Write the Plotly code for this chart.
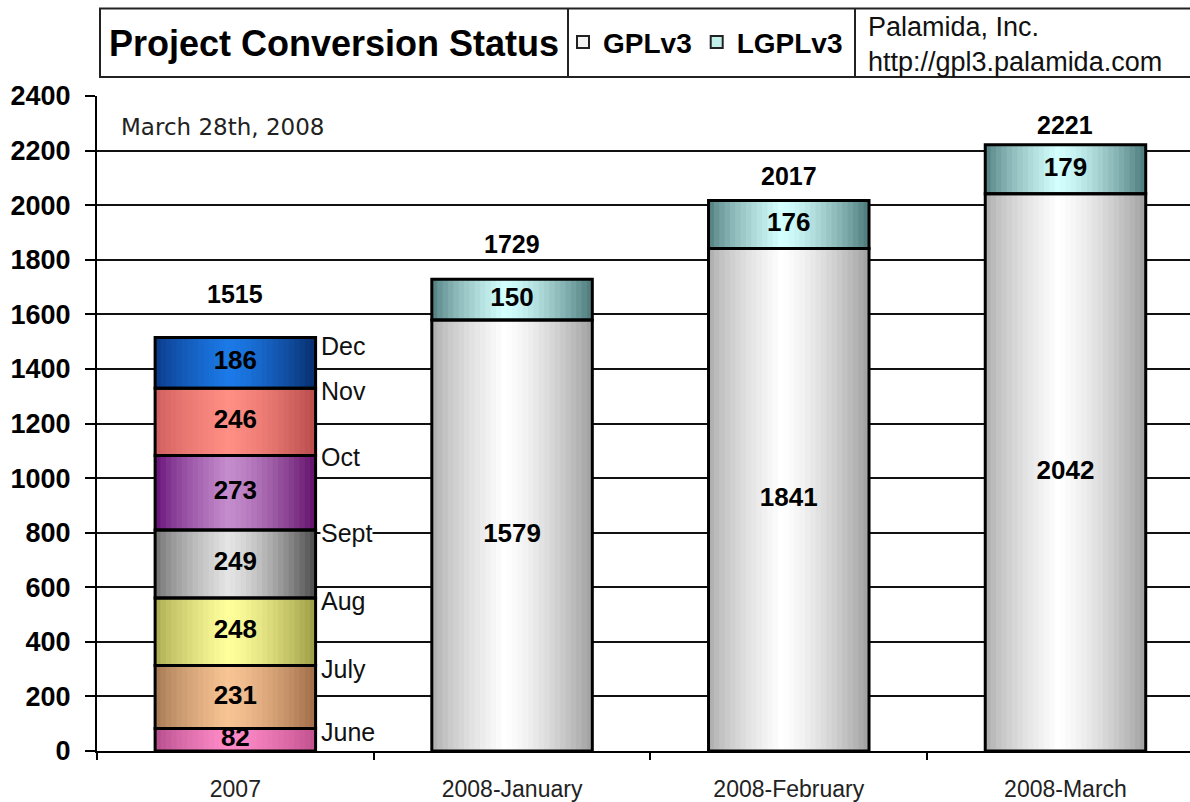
import plotly.graph_objects as go

# ---------------- data ----------------
categories = ["2007", "2008-January", "2008-February", "2008-March"]
months = ["June", "July", "Aug", "Sept", "Oct", "Nov", "Dec"]
month_counts = [82, 231, 248, 249, 273, 246, 186]
gpl_counts = [1579, 1841, 2042]          # 2008-January .. 2008-March
lgpl_counts = [150, 176, 179]
y_ticks = list(range(0, 2401, 200))

# ---------------- styles ----------------
FONT = "Arial, Liberation Sans, sans-serif"
# (left edge, highlight, right edge) gradient colours for each segment
month_grad = [
    ("#b04888", "#ff8cc8", "#c0508e"),   # June
    ("#a07450", "#f8c494", "#a06c48"),   # July
    ("#a6a64c", "#ffff9c", "#9c9c44"),   # Aug
    ("#6c6c6c", "#e4e4e4", "#4c4c4c"),   # Sept
    ("#620a74", "#c48ccc", "#62106a"),   # Oct
    ("#cc5c5c", "#ff8e84", "#b84c4c"),   # Nov
    ("#0a3682", "#1c7ae8", "#082e6c"),   # Dec
]
gpl_grad = ("#a8a8a8", "#ffffff", "#a0a0a0")
lgpl_grad = ("#4a7878", "#d4ffff", "#4c7a7a")
BAR_W = 0.58
N_STRIPS = 30
HI_POS = 0.45

def hex2rgb(h):
    h = h.lstrip("#")
    return [int(h[i:i + 2], 16) for i in (0, 2, 4)]

def grad_color(spec, t):
    l, h, r = (hex2rgb(c) for c in spec)
    if t <= HI_POS:
        u = (t / HI_POS) ** 0.7
        a, b = l, h
    else:
        u = ((t - HI_POS) / (1 - HI_POS)) ** 1.4
        a, b = h, r
    c = [round(a[k] + (b[k] - a[k]) * u) for k in range(3)]
    return "rgb(%d,%d,%d)" % tuple(c)

# ---------------- assemble segments from data ----------------
seg_x, seg_y, seg_base, seg_spec = [], [], [], []
cum = 0
for m, v, spec in zip(months, month_counts, month_grad):
    seg_x.append(categories[0]); seg_y.append(v); seg_base.append(cum); seg_spec.append(spec)
    cum += v
for c, g in zip(categories[1:], gpl_counts):
    seg_x.append(c); seg_y.append(g); seg_base.append(0); seg_spec.append(gpl_grad)
for c, g, l in zip(categories[1:], gpl_counts, lgpl_counts):
    seg_x.append(c); seg_y.append(l); seg_base.append(g); seg_spec.append(lgpl_grad)

totals = [sum(month_counts)] + [g + l for g, l in zip(gpl_counts, lgpl_counts)]

fig = go.Figure()

# gradient strips (horizontal shading of each bar)
sw = BAR_W / N_STRIPS
for i in range(N_STRIPS):
    t = (i + 0.5) / N_STRIPS
    w = sw if i == N_STRIPS - 1 else sw * 1.5
    fig.add_trace(go.Bar(
        x=seg_x, y=seg_y, base=seg_base,
        width=[w] * len(seg_x), offset=-BAR_W / 2 + i * sw,
        marker=dict(color=[grad_color(s, t) for s in seg_spec], line=dict(width=0)),
        showlegend=False, hoverinfo="skip",
    ))

# outlines
fig.add_trace(go.Bar(
    x=seg_x, y=seg_y, base=seg_base, width=[BAR_W] * len(seg_x),
    marker=dict(color="rgba(0,0,0,0)", line=dict(color="black", width=3)),
    showlegend=False, hoverinfo="skip",
))

# segment value labels
fig.add_trace(go.Scatter(
    x=seg_x, y=[b + v / 2 for b, v in zip(seg_base, seg_y)],
    text=[str(v) for v in seg_y], mode="text",
    textfont=dict(family=FONT, size=26, color="black", weight="bold"),
    showlegend=False, hoverinfo="skip",
))

# legend-only entries
fig.add_trace(go.Bar(x=[None], y=[None], name="GPLv3",
                     marker=dict(color="#f4f4f4", line=dict(color="#222", width=2))))
fig.add_trace(go.Bar(x=[None], y=[None], name="LGPLv3",
                     marker=dict(color="#c4f0ec", line=dict(color="#222", width=2))))

PX_PER_CAT = 1093 / 3.95
annotations = []
# totals above bars (category index used as position)
total_shift = [44, 35, 25, 20]
for c, tot, sh in zip(categories, totals, total_shift):
    annotations.append(dict(x=categories.index(c), y=tot, xref="x", yref="y",
                            text="<b>%d</b>" % tot,
                            showarrow=False, yshift=sh, yanchor="middle",
                            font=dict(family=FONT, size=25, color="black")))
# month labels at segment tops
month_label_shift = [-3, -3, -3, -3, -2, -3, -8]
cum = 0
for m, v, sh in zip(months, month_counts, month_label_shift):
    cum += v
    annotations.append(dict(x=0, y=cum, xref="x", yref="y", text=m,
                            showarrow=False, xanchor="left", yanchor="middle",
                            xshift=BAR_W / 2 * PX_PER_CAT + 4, yshift=sh,
                            bgcolor="white" if m == "Sept" else "rgba(0,0,0,0)", borderpad=0,
                            font=dict(family=FONT, size=25, color="#111")))

# header box texts
def px_x(px):
    return (px - 97) / 1093

def px_y(py):
    return (755 - py) / 659

annotations += [
    dict(x=px_x(107), y=px_y(43), xref="paper", yref="paper", xanchor="left", yanchor="middle",
         text="<b>Project Conversion Status</b>", showarrow=False,
         font=dict(family=FONT, size=36, color="black")),
    dict(x=px_x(866), y=px_y(44), xref="paper", yref="paper", xanchor="left", yanchor="middle",
         text="Palamida, Inc.<br>http://gpl3.palamida.com", showarrow=False, align="left",
         font=dict(family=FONT, size=27, color="#111")),
    dict(x=px_x(119), y=px_y(127), xref="paper", yref="paper", xanchor="left", yanchor="middle",
         text="March 28th, 2008", showarrow=False,
         font=dict(family="DejaVu Sans, Verdana, sans-serif", size=23, color="#222")),
]

shapes = [
    dict(type="rect", xref="paper", yref="paper", x0=px_x(100), x1=px_x(1200),
         y0=px_y(77), y1=px_y(8), line=dict(color="#222", width=2)),
    dict(type="line", xref="paper", yref="paper", x0=px_x(568), x1=px_x(568),
         y0=px_y(77), y1=px_y(8), line=dict(color="#222", width=2)),
    dict(type="line", xref="paper", yref="paper", x0=px_x(855), x1=px_x(855),
         y0=px_y(77), y1=px_y(8), line=dict(color="#222", width=2)),
]

fig.update_layout(
    width=1190, height=802,
    margin=dict(l=97, r=0, t=96, b=47),
    barmode="overlay",
    plot_bgcolor="white", paper_bgcolor="white",
    showlegend=True,
    legend=dict(orientation="h", x=px_x(563), y=px_y(42), xanchor="left", yanchor="middle",
                font=dict(family=FONT, size=28, color="black", weight="bold"),
                bgcolor="rgba(0,0,0,0)", borderwidth=0, itemclick=False,
                traceorder="normal"),
    annotations=annotations,
    shapes=shapes,
    xaxis=dict(type="category", categoryorder="array", categoryarray=categories,
               range=[-0.5, 3.45], showline=True, linecolor="black", linewidth=2,
               ticks="outside", tickson="boundaries", ticklen=7, tickwidth=2, tickcolor="black",
               showgrid=False, ticklabelstandoff=16,
               tickfont=dict(family=FONT, size=23, color="#222")),
    yaxis=dict(range=[0, 2400], tickvals=y_ticks, showline=True, linecolor="black", linewidth=2,
               ticks="outside", ticklen=10, tickwidth=2, tickcolor="black",
               showgrid=True, gridcolor="#111", gridwidth=2, zeroline=False,
               ticklabelstandoff=9,
               tickfont=dict(family=FONT, size=27, color="black", weight="bold")),
)

fig.write_html("out.html", config={"displayModeBar": False},
               post_script="document.body.style.margin='0';")
